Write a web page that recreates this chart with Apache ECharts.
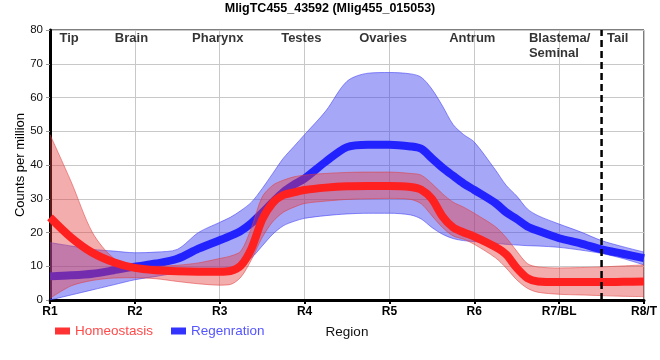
<!DOCTYPE html>
<html>
<head>
<meta charset="utf-8">
<script src="https://cdn.jsdelivr.net/npm/echarts@6/dist/echarts.min.js"></script>
<style>html,body{margin:0;padding:0;background:#fff}#c{width:660px;height:360px}</style>
</head>
<body>
<div id="c"></div>
<script>
const regionX = [1,1.25,1.5,1.75,2,2.25,2.5,2.75,3,3.125,3.25,3.375,3.5,3.625,3.75,3.875,4,4.25,4.5,4.75,5,5.25,5.375,5.5,5.625,5.75,5.875,6,6.25,6.375,6.5,6.625,6.75,7,7.25,7.5,7.75,8];
const homeoMean  = [24.5,18.5,14,11.2,9.5,8.8,8.5,8.4,8.4,8.6,10.2,15.3,23.8,28.8,31.1,31.9,32.6,33.3,33.7,33.8,33.8,33.5,32.7,30.0,24.8,21.5,20,18.8,15.7,13.5,9.5,6.5,5.5,5.3,5.3,5.3,5.4,5.5];
const homeoUpper = [49,35,20,12.4,10,10,10.3,11,12.3,13,14.5,21.5,30.5,34,35.5,36.5,37,37.5,37.8,37.9,37.9,37.5,37,34.5,31.5,29,27.5,25.7,21.7,18.5,14.5,10.8,9.8,9.5,9.6,9.8,10.1,10.4];
const homeoLower = [0.5,4.2,5.8,6.5,6.6,6.3,5.5,4.8,4.4,4.6,6.8,12,18.5,23.2,26,27.5,28.6,29.3,29.8,30,30.1,29.8,28.5,25,21.5,19,18,16.5,12.5,9.5,6,3.5,2.3,1.7,1.5,1.3,1.1,1];
const regenMean  = [7,7.3,7.8,8.8,9.9,10.8,12.2,15.2,17.7,19,20.5,22.8,25.8,29,32,34.2,36,41,45.3,46,46,45.5,44.8,42,39.2,36.8,34.5,32.6,28.7,26,24,21.8,20.5,18.3,16.8,15,13.7,12.4];
const regenUpper = [17,16,15,14.5,14,14.2,15,20,23,24.5,26.5,29,33,37.5,42,45.5,49,56,64.8,67.2,67.4,67,66,62.5,57.5,52,49,46.8,38.5,34,30.8,27,25,22.5,20.2,17.6,15.8,14.2];
const regenLower = [0,1.5,3,4.5,6,7,8,8.5,9.2,9.6,10.5,12.5,16,19.5,22,23.3,24.2,25,25.5,25.7,25.7,25.2,24,21.5,19.5,18.2,17.6,17.3,16.8,16.5,16.3,16.1,16,15.6,14.8,13.8,12.3,10.4];
const xTickLabels = ['R1','R2','R3','R4','R5','R6','R7/BL','R8/T'];
const regionNames = ['Tip','Brain','Pharynx','Testes','Ovaries','Antrum','Blastema/\nSeminal','Tail'];
const regionNameX = [1.117,1.77,2.68,3.73,4.65,5.71,6.65,7.57];
const tailBoundary = 7.5;
const yMin = 0, yMax = 80, yStep = 10;

const FONT = '"Liberation Sans", Arial, sans-serif';
// data rows are [value, x] so that stacking acts on the value dimension
const rows = arr => regionX.map((x, i) => [arr[i], x]);
const diffRows = (up, lo) => regionX.map((x, i) => [up[i] - lo[i], x]);
const ENC = {x: 1, y: 0};
const SM = 0.3;

function band(stack, lower, upper, fill, edge, z) {
  return [
    {type:'line', name: stack + '_lo', stack: stack, data: rows(lower), encode: ENC, symbol:'none', smooth: SM,
     lineStyle:{color: edge, width: 1}, silent: true, z: z},
    {type:'line', name: stack + '_hi', stack: stack, data: diffRows(upper, lower), encode: ENC, symbol:'none', smooth: SM,
     lineStyle:{color: edge, width: 1}, areaStyle:{color: fill, opacity: 1}, silent: true, z: z}
  ];
}

const chart = echarts.init(document.getElementById('c'), null, {renderer:'canvas'});
chart.setOption({
  animation: false,
  backgroundColor: '#fff',
  title: {
    text: 'MligTC455_43592 (Mlig455_015053)', left: 'center', top: 0, padding: [2, 5],
    textStyle: {fontFamily: FONT, fontSize: 12.5, fontWeight: 'bold', color: '#000'}
  },
  legend: {
    left: 50, top: 319, icon: 'rect', itemWidth: 15, itemHeight: 7, itemGap: 18,
    textStyle: {fontFamily: FONT, fontSize: 13.5},
    data: [
      {name: 'Homeostasis', textStyle: {color: '#ff4a4a'}},
      {name: 'Regenration', textStyle: {color: '#5555ff'}}
    ]
  },
  grid: {left: 50, right: 10, top: 30, bottom: 60, show: true, borderColor: '#000', borderWidth: 1},
  xAxis: {
    type: 'value', min: 1, max: 8, interval: 1,
    name: 'Region', nameLocation: 'middle', nameGap: 25, nameMoveOverlap: false,
    nameTextStyle: {fontFamily: FONT, fontSize: 13.5, color: '#111'},
    axisLine: {lineStyle: {color: '#000', width: 3}},
    axisTick: {show: true, length: 4, lineStyle: {color: '#000', width: 2}},
    axisLabel: {margin: 6, fontFamily: FONT, fontSize: 12, fontWeight: 'bold', color: '#000',
      formatter: v => xTickLabels[Math.round(v) - 1] || ''},
    splitLine: {show: true, lineStyle: {color: '#c8c8c8', width: 1}}
  },
  yAxis: {
    type: 'value', min: yMin, max: yMax, interval: yStep,
    name: 'Counts per million', nameLocation: 'middle', nameGap: 23, nameMoveOverlap: false,
    nameTextStyle: {fontFamily: FONT, fontSize: 13, color: '#000'},
    axisLine: {show: true, lineStyle: {color: '#000', width: 3}},
    axisTick: {show: true, length: 4, lineStyle: {color: '#999', width: 1}},
    axisLabel: {margin: 7, fontFamily: FONT, fontSize: 11.5, color: '#111'},
    splitLine: {show: true, lineStyle: {color: '#c8c8c8', width: 1}}
  },
  series: [
    ...band('regen', regenLower, regenUpper, 'rgba(60,60,240,0.45)', 'rgba(70,70,245,0.6)', 2),
    {type:'line', name:'Regenration', data: rows(regenMean), encode: ENC, symbol:'none', smooth: SM,
     lineStyle:{color:'#2222ff', width: 8}, itemStyle:{color:'#3333ff'}, z: 3},
    ...band('homeo', homeoLower, homeoUpper, 'rgba(228,60,60,0.42)', 'rgba(225,60,60,0.55)', 4),
    {type:'line', name:'Homeostasis', data: rows(homeoMean), encode: ENC, symbol:'none', smooth: SM,
     lineStyle:{color:'#ff2020', width: 8}, itemStyle:{color:'#ff3333'}, z: 5},
    {type:'line', name:'tailBoundary', data: [[tailBoundary, yMin], [tailBoundary, yMax]], symbol:'none',
     lineStyle:{color:'#000', width: 2.5, type: [7, 4]}, silent: true, z: 6},
    {type:'scatter', name:'regions', symbolSize: 1, itemStyle:{color:'rgba(0,0,0,0)'}, silent: true, z: 7,
     data: regionNameX.map((x, i) => ({value: [x, yMax], name: regionNames[i]})),
     label: {show: true, position: [0, 1], align: 'left', verticalAlign: 'top',
       formatter: p => p.name, fontFamily: FONT, fontSize: 13, fontWeight: 'bold', color: '#000', lineHeight: 15}}
  ]
});
</script>
</body>
</html>
